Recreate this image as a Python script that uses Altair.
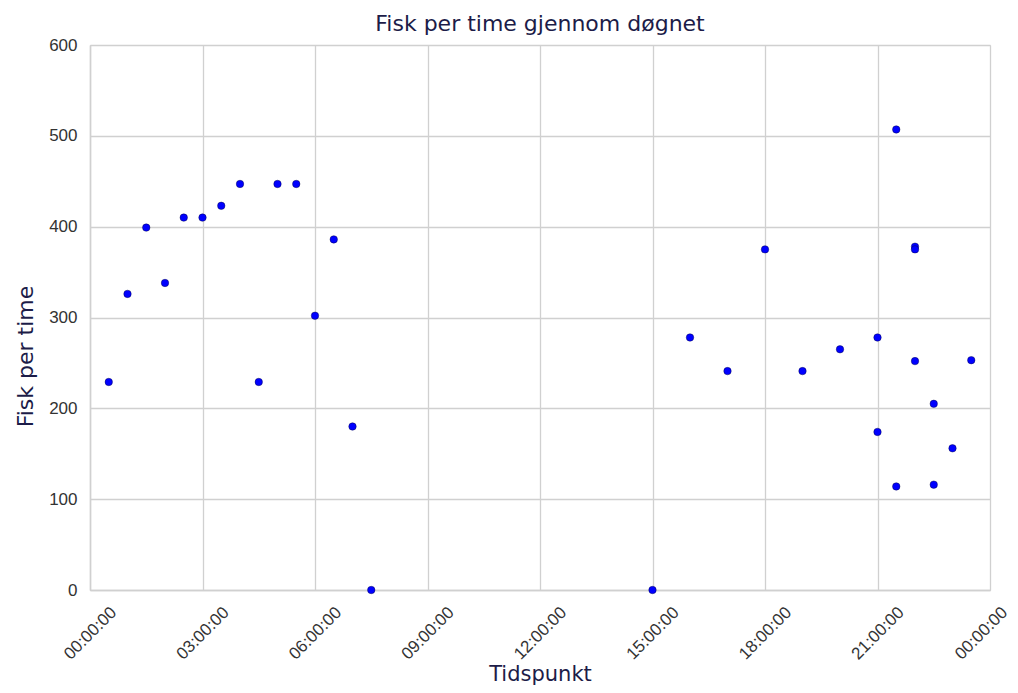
import altair as alt
import pandas as pd

times = [
    "00:30", "01:00", "01:30", "02:00", "02:30", "03:00", "03:30", "04:00",
    "04:30", "05:00", "05:30", "06:00", "06:30", "07:00", "07:30",
    "15:00", "16:00", "17:00", "18:00", "19:00", "20:00", "21:00", "21:00",
    "21:30", "21:30", "22:00", "22:00", "22:00", "22:30", "22:30", "23:00", "23:30",
]
fish = [
    229, 326, 399, 338, 410, 410, 423, 447,
    229, 447, 447, 302, 386, 180, 0,
    0, 278, 241, 375, 241, 265, 278, 174,
    507, 114, 378, 375, 252, 205, 116, 156, 253,
]

df = pd.DataFrame({"t": ["2020-01-01T" + t + ":00" for t in times], "fisk": fish})

tick_vals = [alt.DateTime(year=2020, month=1, date=1, hours=h) for h in range(0, 24, 3)]
tick_vals.append(alt.DateTime(year=2020, month=1, date=2, hours=0))

navy = "#1c1c48"

chart = alt.Chart(df).mark_circle(
    size=56, color="#0000ff", opacity=1, stroke="#000033", strokeWidth=0.4
).encode(
    x=alt.X(
        "t:T",
        title="Tidspunkt",
        scale=alt.Scale(
            domain=[
                alt.DateTime(year=2020, month=1, date=1, hours=0),
                alt.DateTime(year=2020, month=1, date=2, hours=0),
            ]
        ),
        axis=alt.Axis(
            values=tick_vals,
            format="%H:%M:%S",
            labelAngle=315,
            labelAlign="center",
            labelBaseline="middle",
            labelPadding=43,
            labelOffset={"condition": {"test": "datum.index >= 1", "value": -9}, "value": 0},
            labelFont="Liberation Sans",
            labelFontSize=17,
            labelColor="#333333",
            tickSize=0,
            titleFont="DejaVu Sans",
            titleFontSize=21,
            titleFontWeight="normal",
            titleColor=navy,
            titleY=84,
            titleBaseline="middle",
            grid=True,
            gridColor="#d0d0d0",
            gridWidth=1.3,
            domainColor="#d0d0d0",
            domainWidth=1.5,
            labelOverlap=False,
            labelFlush=False,
        ),
    ),
    y=alt.Y(
        "fisk:Q",
        title="Fisk per time",
        scale=alt.Scale(domain=[0, 600], nice=False, zero=True),
        axis=alt.Axis(
            values=[0, 100, 200, 300, 400, 500, 600],
            labelFont="Liberation Sans",
            labelFontSize=17,
            labelColor="#333333",
            labelPadding=13,
            tickSize=0,
            titleFont="DejaVu Sans",
            titleFontSize=22,
            titleFontWeight="normal",
            titleColor=navy,
            titleX=-65,
            titleY=311,
            titleAngle=270,
            titleBaseline="middle",
            titleAlign="center",
            grid=True,
            gridColor="#d0d0d0",
            gridWidth=1.3,
            domainColor="#d0d0d0",
            domainWidth=1.5,
            labelFlush=False,
        ),
    ),
).properties(
    width=900,
    height=545,
    title=alt.TitleParams(
        "Fisk per time gjennom døgnet",
        font="DejaVu Sans",
        fontSize=22,
        fontWeight="normal",
        color=navy,
        offset=0,
        anchor="middle",
    ),
    autosize=alt.AutoSizeParams(type="none"),
    padding={"left": 82, "top": 37, "right": 20, "bottom": 95},
).configure_view(
    stroke="#d0d0d0", strokeWidth=1.5
).configure(background="white")

chart.save("out.html", embed_options={"renderer": "svg", "actions": False})
